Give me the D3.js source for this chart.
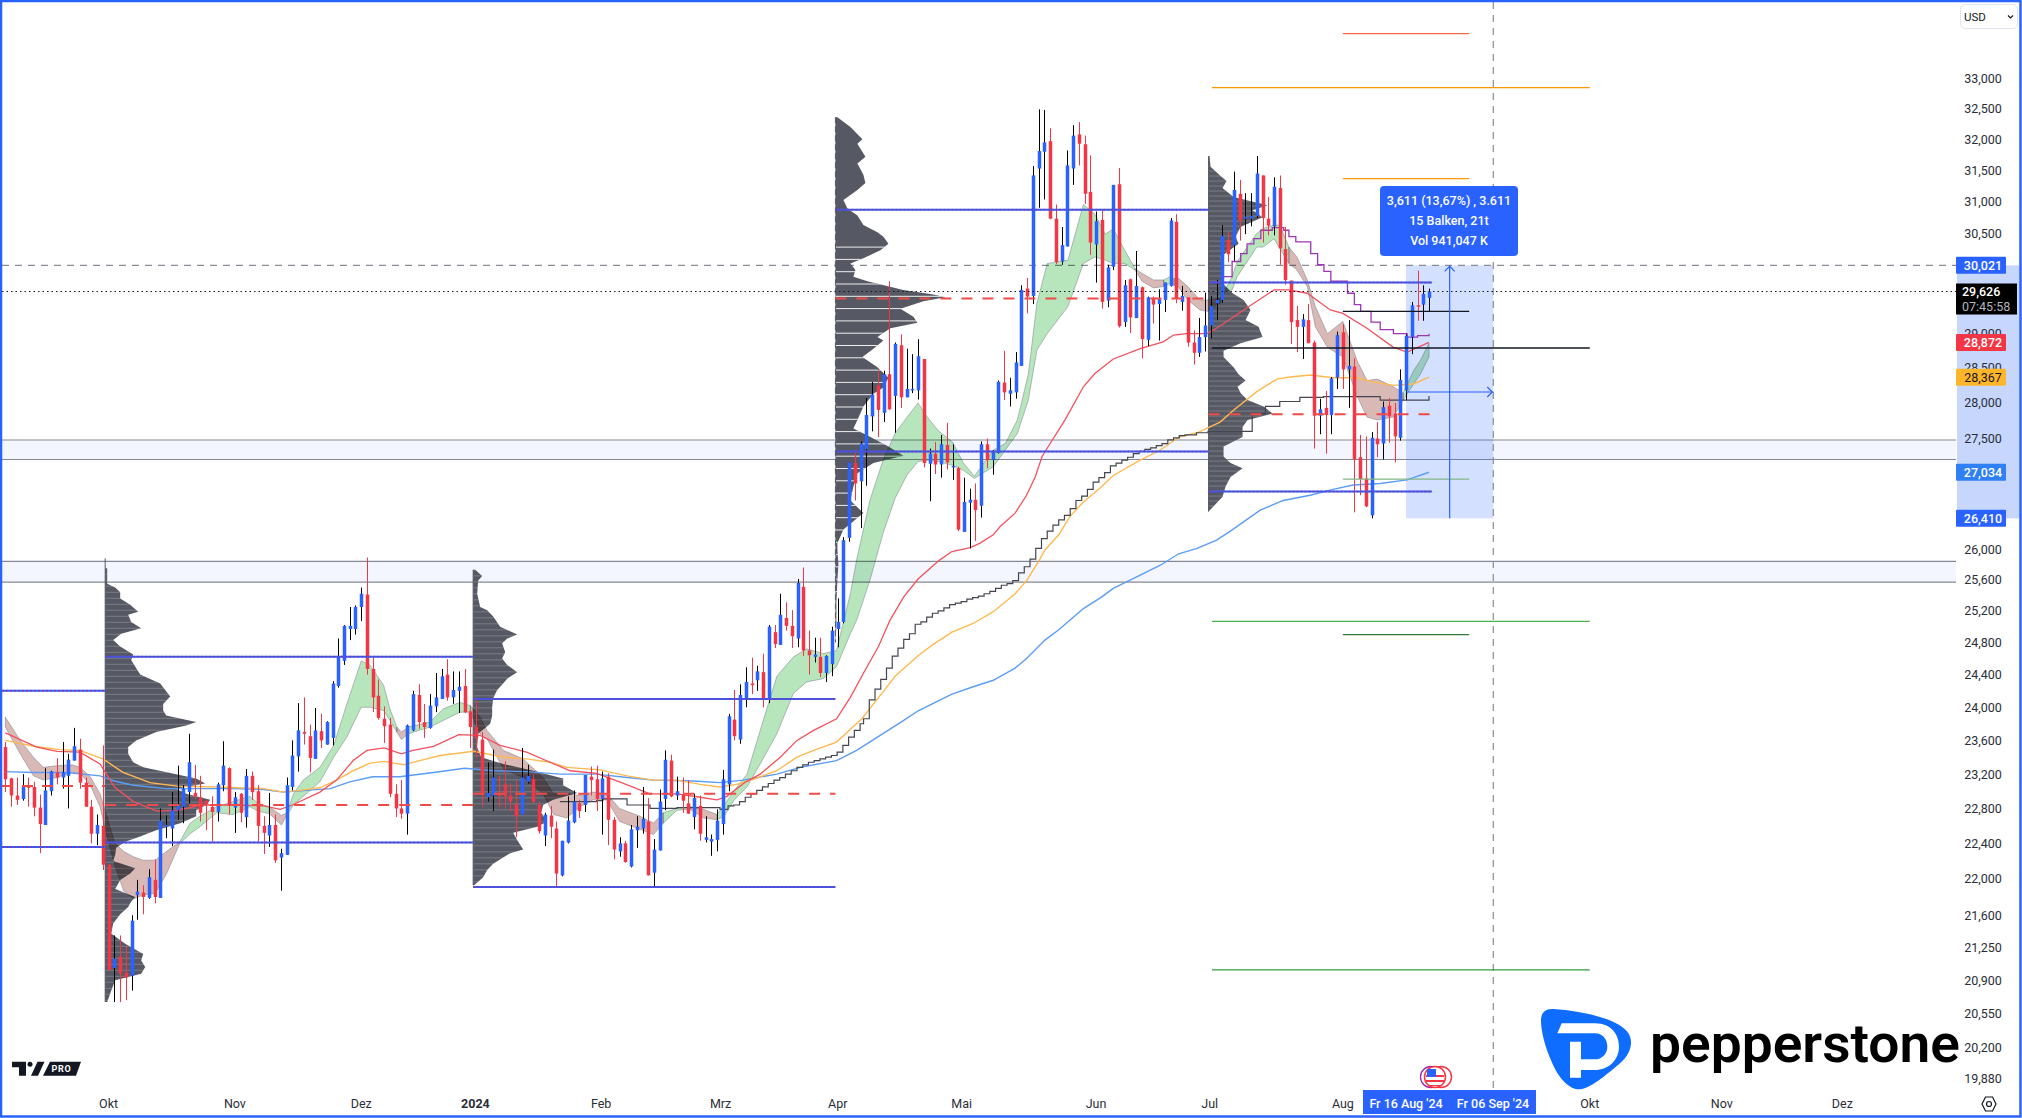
<!DOCTYPE html>
<html><head><meta charset="utf-8">
<script src="https://cdn.jsdelivr.net/npm/d3@7"></script>
<style>html,body{margin:0;padding:0;background:#fff;overflow:hidden}svg{display:block}text{font-family:Roboto,"Open Sans",sans-serif}</style>
</head><body><div id="c"></div>
<script>
const opens=[23520,23150,22950,22910,23060,23050,22810,22610,23000,23220,23160,23180,23360,23490,23100,22820,22510,22600,22160,21030,21150,20980,20950,21820,21850,21790,21990,21790,22590,22570,22780,22820,22990,22980,22930,22890,22820,22760,23070,23270,22810,22970,22700,23180,23000,22600,22490,22610,22240,22270,23050,23410,23700,23650,23380,23710,23550,23630,24260,24570,24970,24970,25250,25410,24470,24140,23860,23790,22970,22800,22740,23720,24150,23820,23750,24010,24100,24400,24120,24200,24260,23950,23760,23610,22930,22950,22980,23080,22950,22850,22730,23110,23140,22840,22490,22720,22570,22040,22410,22640,22860,22840,23170,23140,22910,23170,22670,22310,22400,22140,22550,22570,22650,22070,22320,22910,23360,22950,22960,22860,22700,22830,22440,22420,22440,22620,23080,23850,23610,24110,24290,24330,24430,24100,24930,24770,25110,25010,24850,25510,24700,24620,24620,24420,24530,24970,25060,26150,27160,26910,27350,27810,28250,27860,28410,28100,28830,28080,28180,28180,28630,27150,27290,27140,27410,27100,27090,26230,26620,26660,26580,27420,27200,27300,28290,28130,28150,28530,29670,29560,31530,31800,31970,30740,30080,30310,31530,32080,31920,31160,30340,30720,29490,30000,31280,29170,29810,29230,29690,28910,29530,29440,29500,29710,30690,29470,29540,28870,28720,28950,29120,29450,29500,30410,30330,31130,30740,30740,30780,31420,30740,30620,31220,30270,29790,29200,29100,29200,28870,27820,27930,27830,28360,29020,28480,28520,27240,26950,26450,27500,27430,27960,27850,27510,28180,28950,29420,29430,29530];
const highs=[23580,23160,23160,23200,23160,23110,22960,23270,23240,23390,23580,23440,23750,23620,23160,22900,22730,23540,22170,21380,21380,21270,21600,21990,21930,22110,22220,22800,22720,22990,23300,23070,23680,23310,23180,22900,22940,23100,23590,23280,22990,22980,23260,23230,23070,22710,22980,22730,22340,23160,23600,24050,24120,23790,23990,23920,23830,24320,24850,25020,25250,25270,25500,25890,24620,24340,24010,23870,23080,23130,23790,24200,24280,24040,24160,24420,24470,24590,24440,24440,24470,23960,24080,23700,23340,23490,23180,23350,23090,23130,23510,23310,23200,22880,22750,22830,22650,22430,22940,23010,22900,23190,23290,23300,23230,23210,22700,22470,22430,22610,22710,23050,22920,22450,23020,23480,23430,23170,23160,23130,22970,22950,22710,22500,22790,23250,23920,24210,24280,24490,24610,24510,24660,25020,25020,25420,25310,25210,25610,25760,24950,24860,24860,24640,25000,25360,26160,27170,27300,27460,28070,28300,28480,28460,29780,28870,28990,28780,28700,28920,28630,27360,27450,27550,27720,27420,27110,26960,26810,26880,27460,27500,27340,28320,28750,28360,28730,29720,29830,31570,32490,32480,32180,30960,30610,31820,32230,32280,32060,31740,30850,30870,30030,31270,31540,29800,29820,30240,29700,29550,29550,29660,29760,30750,30810,29710,29540,29050,29230,29610,29560,29800,30640,30540,31480,31350,31140,31140,31730,31420,31080,31390,31420,30610,29790,29410,29290,29440,28900,28060,28170,28370,29030,29140,29200,28640,27550,27530,27590,27730,28020,28070,28000,28480,28990,29470,29940,29720,29670];
const lows=[22990,22820,22840,22890,22820,22710,22290,22610,22950,23080,23030,22800,23360,23030,22820,22400,22380,22100,21000,20670,20670,20690,20790,21550,21610,21780,21730,21790,22460,22370,22670,22630,22860,22910,22650,22550,22420,22650,23000,22730,22520,22640,22580,22900,22420,22280,22360,22180,21870,22270,23010,23230,23550,23220,23380,23510,23550,23540,24240,24520,24830,24900,25070,24400,23940,23850,23570,22930,22700,22680,22500,23710,23740,23630,23740,23940,24100,24080,24040,23930,23930,23510,23400,22820,22880,22770,22820,22800,22770,22470,22730,23090,22860,22510,22370,22460,21920,22030,22400,22630,22690,22760,22950,22770,22500,22380,22220,22250,22180,22130,22350,22510,22040,21920,22320,22780,22930,22900,22750,22740,22560,22430,22410,22260,22310,22500,23000,23600,23560,24000,24160,24200,24000,24050,24730,24770,24950,24730,24740,24630,24400,24550,24370,24310,24380,24740,25040,26100,26650,26280,26850,27600,27520,27730,27900,27580,27930,28080,28140,28050,27100,26640,27010,26960,27070,26930,26240,26230,26010,26110,26420,27090,27000,27290,28040,27950,28060,28530,29300,29440,30910,31040,30730,30040,30030,30310,31270,31580,30970,30180,29760,29370,29390,29950,29090,29100,29010,29230,28640,28820,29150,28900,29320,29700,29450,29340,28810,28550,28660,28740,28930,29200,29460,30070,30090,30400,30500,30620,30750,30370,30480,30480,30030,29730,28850,28730,28630,28860,27360,27560,27290,27560,28200,28200,27930,26490,26720,26560,26410,27240,27210,27440,27170,27470,28040,28700,29190,29190,29330];
const closes=[23140,22950,22900,23060,23040,22810,22620,23010,23230,23160,23220,23370,23530,23100,22820,22510,22610,22160,21010,21130,20970,20930,21540,21860,21800,22020,21800,22660,22610,22780,22830,23030,23340,22940,22750,22850,22760,23080,23300,22830,22930,22750,23180,22990,22600,22520,22610,22210,22290,23070,23420,23720,23680,23390,23720,23600,23820,24290,24620,25010,25010,25250,25420,24470,24120,23870,23770,22970,22800,22740,23780,24160,23820,23760,24020,24120,24380,24120,24210,24250,23940,23760,23630,22960,22980,23160,22950,22940,22880,22710,23160,23180,22880,22540,22730,22590,22060,22430,22660,22880,22770,23190,23130,22910,23150,22670,22330,22400,22190,22560,22590,22680,22040,22330,22880,23370,22940,23000,22890,22740,22920,22510,22470,22450,22660,23140,23890,23650,24150,24310,24270,24440,24110,25000,24780,25150,25010,24880,25560,24700,24640,24650,24420,24630,24950,25060,26120,27170,26880,27430,27830,28120,27900,28410,27910,28850,28080,28200,28200,28670,27160,27290,27140,27420,27170,27120,26260,26630,26660,26520,27420,27200,27310,28300,28150,28180,28580,29650,29550,31420,31810,31950,30740,30070,30330,31580,32060,31930,31130,30370,30700,29470,29990,31270,29110,29720,29240,29710,28920,29540,29430,29510,29760,30710,29520,29560,28870,28720,28950,29120,29410,29500,30470,30190,31190,30710,30770,30780,31450,30750,30630,31240,30280,29800,29170,29100,29210,28860,27820,27910,27830,28350,28980,28480,28530,27210,26940,26570,27510,27420,27940,27810,27530,28330,28970,29420,29410,29590,29626];

const priceTicks=[33000,32500,32000,31500,31000,30500,29000,28500,28000,27500,26000,25600,25200,24800,24400,24000,23600,23200,22800,22400,22000,21600,21250,20900,20550,20200,19880];
const monthLabels=["Okt","Nov","Dez","2024","Feb","Mrz","Apr","Mai","Jun","Jul","Aug","Okt","Nov","Dez"];
const monthBars=[18,40,62,81.9,103.8,124.6,145,166.6,190,209.8,233,276,299,320];

// moving averages: bar index / price
const redBars=[0,5.5,9,13,16.5,19,22.3,26.4,30.4,34,39.7,45,47.9,50,54.8,57.7,60.6,63,66,69,71,74.6,79,82.7,86.2,90.8,94.9,98.4,103,107,112.3,117,121,124,125.7,129,131.5,135,137.9,140.8,144.8,147.2,149.5,152.1,154.1,156.5,159,161.1,162.8,164.9,168.1,169.8,172.1,173.3,175.9,177.9,179.4,180.6,182,183.5,184.6,187.8,189.8,193,197.7,201.7,203.5,205.8,209.3,211,214,218,221,223.5,226.8,230.8,233,237.2,241.8,244.2,248];
const redVals=[23690,23520,23470,23460,23320,23050,22880,22770,22780,22840,22840,22830,22790,22840,22990,23130,23360,23480,23510,23440,23480,23530,23670,23660,23540,23460,23340,23240,23210,23110,22970,22970,22930,22900,22940,23110,23200,23400,23600,23720,23860,24120,24420,24750,25080,25380,25610,25750,25860,25970,26020,26080,26190,26300,26480,26720,26970,27250,27430,27620,27760,28230,28420,28630,28780,28880,28980,29000,29000,29080,29250,29480,29650,29650,29600,29350,29300,29080,28800,28730,28872];
const orangeBars=[0,5,9.5,13,17,20.5,25.2,29.9,36.8,45,48.4,51.3,54.8,57.7,60.6,63.5,66,69.4,72.2,75.7,81.6,86.8,90.8,94.9,97.8,103.6,108.3,112.9,117,121,124.5,127.4,130.3,134.4,137.9,140.8,144.8,149.2,151.8,155,159.1,161.7,164.9,168.6,172.1,175.9,177.9,180,181.1,183.5,185.5,187.8,191,193,197.7,201.2,204.4,207.6,211.6,214,218,221.5,223.8,227.3,231.3,235.5,238.3,241.8,245.3,248];
const orangeVals=[23600,23530,23490,23480,23380,23220,23100,23060,23050,23030,22990,23010,23040,23130,23240,23330,23350,23310,23360,23420,23470,23400,23380,23340,23280,23250,23180,23130,23130,23080,23050,23080,23140,23240,23400,23480,23580,23860,24090,24380,24640,24780,24930,25040,25190,25420,25590,25840,25990,26190,26440,26630,26840,26990,27200,27340,27520,27580,27730,27900,28160,28340,28370,28400,28360,28360,28300,28250,28270,28367];
const blueBars=[0,5,10.7,16.5,19,22.3,28,34,39.7,45,48.4,52.5,56.6,60,64,68.7,74.6,80,85,90.8,96.6,103,108.3,112.9,119.9,124.5,128.5,134.4,138.5,144.8,148.3,152.4,156.5,159.1,164.9,168.6,172.1,175.9,177.9,181.1,183.5,187.8,191,193,197.7,201.2,204.4,207.6,211,213.4,218.6,222.6,227.3,231.3,234.8,239.5,244.2,248];
const blueVals=[23230,23220,23220,23180,23120,23070,23030,23030,23030,23020,22990,23010,23030,23110,23170,23170,23220,23270,23240,23230,23200,23200,23160,23130,23120,23100,23130,23200,23280,23360,23480,23660,23840,23960,24160,24250,24330,24480,24600,24830,24960,25230,25380,25490,25660,25790,25940,26010,26120,26240,26520,26650,26720,26800,26860,26880,26930,27034];
const blackBars=[96.6,103,104.1,108.3,112.3,117,121,124.5,125.9,126.9,127.9,128.9,129.9,130.9,131.9,132.9,133.9,134.9,135.9,136.9,137.9,138.9,139.9,140.9,141.9,142.9,143.9,144.9,145.9,146.9,147.9,148.9,149.5,150.5,151.5,152.5,153.5,154.5,155.5,156.5,157.5,158.5,159.5,160.5,161.5,162.5,163.5,164.5,165.5,166.5,167.5,168.5,169.5,170.5,171.5,172.5,173.5,174.5,175.5,176.5,177.5,178.5,179.5,180.5,181.5,182.5,183.5,184.5,185.5,186.5,187.5,188.5,189.5,190.5,191.5,192.5,193.5,194.5,195.5,196.5,197.5,198.5,199.5,200.5,201.5,202.5,203.5,204.5,205.5,207.5,209.5,217.2,219.5,222,225.5,229.6,234.8,239.5,244.2,248];
const blackVals=[22880,22890,22910,22840,22800,22810,22810,22790,22830,22840,22880,22930,22970,23010,23050,23090,23130,23160,23200,23240,23280,23310,23340,23360,23380,23400,23420,23460,23540,23640,23720,23800,23860,24090,24220,24340,24480,24630,24730,24840,24910,25030,25060,25120,25170,25200,25240,25280,25300,25320,25350,25370,25390,25420,25450,25490,25530,25550,25590,25690,25770,25870,26010,26140,26240,26320,26390,26450,26540,26650,26710,26800,26900,26960,27030,27120,27160,27200,27240,27290,27320,27350,27370,27400,27430,27480,27510,27540,27550,27580,27600,27850,27950,28020,28080,28090,28090,28040,28040,28100];
const purpleBars=[211.9,213.7,215.2,216.3,217.5,218.7,220.7,222.7,223.6,224.8,227.4,228.6,229.7,230.9,233.8,235,236.1,237.9,239.5,241.8,244.2,246,248];
const purpleVals=[29850,30080,30200,30350,30430,30560,30600,30560,30460,30380,30200,30030,29930,29780,29600,29430,29330,29170,29060,29000,28950,28970,29000];

// ribbon: segments of [bar, upper, lower]
const ribbonSegments=[
{c:"r",p:[[0,23880,23760],[2.6,23600,23440],[4.9,23400,23180],[6.6,23280,23130],[9,23300,23160],[11.6,23310,23220],[13,23280,23220],[14.8,23170,23070],[16.5,22970,22820],[17.7,22710,22480],[19.1,22400,22150],[20.6,22310,21870],[22.3,22250,21780],[24,22210,21820],[26.1,22210,21840],[28.1,22310,22060],[30.4,22420,22400]]},
{c:"g",p:[[30.4,22420,22400],[32.2,22630,22510],[33.9,22710,22590],[36.8,22820,22750],[39.7,22880,22730],[42.6,22940,22820],[44,22860,22770],[46,22820,22740]]},
{c:"r",p:[[46,22820,22740],[48.1,22720,22610],[49.1,22750,22730]]},
{c:"g",p:[[49.1,22750,22730],[50.2,22970,22840],[51.9,23130,22940],[54.8,23280,23110],[57.2,23540,23400],[59.5,24040,23640],[62,24570,24000],[63.5,24520,24000],[65.9,24270,23960],[67,23980,23840],[68.2,23760,23700]]},
{c:"r",p:[[68.2,23760,23700],[69,23700,23610],[70.2,23760,23680]]},
{c:"g",p:[[70.2,23760,23680],[74,23820,23760],[76.3,23980,23840],[79.2,24060,23940],[81,24020,23940]]},
{c:"r",p:[[81,24020,23940],[82.7,23880,23680],[83.9,23720,23620],[86.8,23480,23260],[90.2,23380,23160],[93.7,23160,22970],[95.5,22970,22730],[97.8,22970,22690],[100.1,22950,22820],[102.4,22990,22900],[104.8,22970,22900],[107,22800,22650],[110.6,22710,22560],[112.9,22630,22500],[114.6,22750,22630]]},
{c:"g",p:[[114.6,22750,22630],[117,22800,22780],[119.3,22820,22790]]},
{c:"r",p:[[119.3,22820,22790],[121.6,22790,22690],[124,22730,22670]]},
{c:"g",p:[[124,22730,22670],[125.2,22840,22710],[127,23010,22900],[129.2,23200,23050],[131.5,23720,23320],[134.4,24380,23680],[137.3,24620,24170],[139.6,24720,24310],[142.5,24660,24350],[144.8,24700,24500],[147.2,25420,24910],[148.3,25860,25080],[150.6,26650,25590],[152.9,27200,26210],[155,27570,26680],[157.1,27800,27000],[159,28000,27180],[160.6,27800,27200],[162.5,27610,27180],[165,27450,27130],[166.9,27160,27060],[168.8,26980,26950],[172.1,27340,27110],[174.2,27430,27340],[176.3,27760,27570],[178.2,28410,28040],[179.7,29450,28760],[181.5,30050,29000],[185.1,30100,29400],[187.8,30960,30050],[189.8,30810,30150],[191.6,30500,30100],[193,30580,30050],[195,30250,30050],[196.8,29970,29950]]},
{c:"r",p:[[196.8,29970,29950],[198,29900,29780],[200,29800,29680],[201.8,29800,29700]]},
{c:"g",p:[[201.8,29800,29700],[202.9,29850,29750],[203.6,29820,29720]]},
{c:"r",p:[[203.6,29820,29720],[204.3,29830,29700],[206,29700,29500],[208.1,29500,29350],[209.5,29500,29330],[211.6,29520,29450]]},
{c:"g",p:[[211.6,29520,29450],[212.5,29650,29630],[213.7,29850,29650],[214.6,30080,29850],[218,30510,30300],[219.1,30590,30300],[221,30640,30430],[222,30640,30280],[223.6,30300,30050]]},
{c:"r",p:[[223.6,30300,30050],[225,30150,29950],[226.8,29800,29700],[228.2,29400,29100],[230.3,29000,28800],[233,29180,28660],[235.5,28600,28090],[237.2,28320,27800],[239,28340,27760],[241.8,28230,27800],[243.5,28140,28040]]},
{c:"g",p:[[243.5,28140,28040],[245.3,28460,28270],[246.5,28610,28410],[248,28860,28660]]}
];

// volume profiles: price / volume rows
const vp1Prices=[25750,25550,25500,25440,25360,25280,25190,25150,25060,24980,24910,24830,24750,24650,24580,24500,24400,24290,24210,24130,24040,23960,23900,23820,23780,23700,23600,23520,23440,23340,23280,23200,23150,23090,23030,22970,22900,22840,22780,22710,22630,22550,22480,22420,22350,22270,22200,22120,22060,21990,21890,21800,21750,21690,21610,21510,21400,21290,21180,21110,21040,20970,20900,20790,20670];
const vp1Vols=[2,2,10,15,15,25,33,23,26,36,16,8,15,28,26,30,35,55,60,65,58,58,61,91,81,51,31,23,23,28,38,71,91,100,71,81,105,101,91,91,75,51,35,20,11,10,8,30,25,15,10,30,26,23,15,8,6,20,38,36,40,36,10,6,2];
const vp2Prices=[25730,25650,25590,25420,25250,25210,25130,25000,24900,24850,24790,24680,24600,24520,24430,24350,24290,24210,24110,24000,23900,23800,23680,23520,23400,23320,23240,23150,23070,22980,22900,22840,22750,22650,22590,22520,22440,22330,22290,22170,22100,22020,21930];
const vp2Vols=[2,9,5,4,7,14,20,27,44,34,29,32,29,34,44,34,30,24,20,19,19,17,5,4,8,30,60,90,90,104,80,70,68,74,64,40,44,50,37,20,14,10,1];
const vp3Prices=[32360,32200,32000,31930,31720,31610,31430,31300,31190,31030,30900,30790,30640,30530,30460,30350,30250,30130,30050,29950,29850,29780,29650,29580,29540,29480,29370,29250,29160,29080,28950,28900,28780,28660,28510,28360,28220,28130,27950,27760,27640,27520,27390,27260,27160,27020,26840,26650,26480,26260,26080,26000,25800,25600,25300,25000,24800];
const vp3Vols=[2,15,27,22,30,22,28,30,22,8,12,22,28,42,48,53,45,28,15,20,18,32,68,98,110,88,65,78,82,55,42,48,38,27,42,53,48,38,28,22,18,35,53,68,38,22,18,15,28,8,2,2,3,2,1,1,0];
const vp4Prices=[31730,31560,31410,31330,31220,31080,30950,30870,30760,30610,30460,30350,30150,29900,29750,29600,29500,29350,29200,29100,28950,28860,28750,28660,28510,28410,28320,28230,28140,28040,27950,27850,27760,27660,27520,27390,27250,27160,27090,26970,26840,26700,26500];
const vp4Vols=[1,2,12,18,14,25,59,44,54,32,27,30,12,15,14,24,35,42,37,50,54,32,15,15,25,30,37,29,32,39,55,64,39,34,34,15,15,22,34,22,17,14,0];
const vpBars=[17.4,81.5,144.6,209.6];
const vpGap=[6,6,12.3,5];
const vpStripeTop=[25750,25730,30300,31730];
const vaHigh=[24620,24100,30880,29760];
const vaLow=[22410,21910,27320,26770];
const vpPoc=[22840,22970,29520,27840];
const vpEndBars=[81.5,144.6,209.6,248.5];
const preHigh=24200,preLow=22360,prePoc=23060;

const zoneHighs=[27480,25840];
const zoneLows=[27210,25570];
const fibLongPrices=[32850,28790,25066,21010];
const fibLongColors=["#ff9800","#131722","#4caf50","#2e9b3f"];
const fibShortPrices=[33760,31370,29330,26940,24900];
const fibShortColors=["#f7693c","#ff9800","#131722","#81b784","#2e7d32"];
const fibLongBarRange=[210.2,276];
const fibShortBarRange=[233,255];
const measureLow=26410,measureHigh=30021,measureBars=[244,259.2],lastPrice=29626;
const tooltipLines=["3,611 (13,67%) , 3.611","15 Balken, 21t","Vol 941,047 K"];
const priceBadges=[[30021,"#2962ff","#fff"],[28872,"#f23645","#fff"],[28367,"#ffb52a","#131722"],[27034,"#2f7ff5","#fff"],[26410,"#2962ff","#fff"]];

const W=2022,H=1118,paneR=1956;
const y=d3.scaleLog().domain([19880,33000]).range([1079,78.6]);
const x=d3.scaleLinear().domain([0,248]).range([5.3,1429]);
const vol=d3.scaleLinear().domain([0,100]).range([0,100]);
const BLUE="#2962ff",RED="#f23645";

const svg=d3.select("#c").append("svg").attr("width",W).attr("height",H);
svg.append("rect").attr("width",W).attr("height",H).attr("fill","#fff");
const defs=svg.append("defs");
defs.append("clipPath").attr("id","pane").append("rect").attr("x",2).attr("y",2).attr("width",paneR-2).attr("height",1086);
const g=svg.append("g").attr("clip-path","url(#pane)");
const hline=(p,x1,x2,col,w,dash,op)=>g.append("line").attr("x1",x1).attr("x2",x2).attr("y1",y(p)).attr("y2",y(p)).attr("stroke",col).attr("stroke-width",w).attr("stroke-dasharray",dash||null).attr("opacity",op||1);

// zones
zoneHighs.forEach((h,i)=>{
  g.append("rect").attr("x",2).attr("width",paneR-2).attr("y",y(h)).attr("height",y(zoneLows[i])-y(h)).attr("fill","#f3f6fe");
  hline(h,2,paneR,"#868993",1.1);hline(zoneLows[i],2,paneR,"#868993",1.1);
});
// measure rect
g.append("rect").attr("x",x(measureBars[0])).attr("width",x(measureBars[1])-x(measureBars[0])).attr("y",y(measureHigh)).attr("height",y(measureLow)-y(measureHigh)).attr("fill","rgba(41,98,255,0.2)");
// crosshairs
hline(measureHigh,2,paneR,"#8a8d98",1.2,"7 6");
g.append("line").attr("x1",x(measureBars[1])).attr("x2",x(measureBars[1])).attr("y1",2).attr("y2",1090).attr("stroke","#8a8d98").attr("stroke-width",1.2).attr("stroke-dasharray","7 6");

// volume profiles
[[vp1Prices,vp1Vols],[vp2Prices,vp2Vols],[vp3Prices,vp3Vols],[vp4Prices,vp4Vols]].forEach(([ps,vs],k)=>{
  const x0=x(vpBars[k]);
  const rows=ps.map((p,i)=>[p,vs[i]]);
  const area=d3.area().y(d=>y(d[0])).x0(x0).x1(d=>x0+vol(d[1]));
  const id="vpc"+k;
  defs.append("clipPath").attr("id",id).append("path").attr("d",area(rows));
  g.append("path").attr("d",area(rows)).attr("fill","#565963");
  const y0=y(ps[0]),y1=y(ps[ps.length-1]);
  const gs=g.append("g").attr("clip-path",`url(#${id})`);
  d3.range(y(vpStripeTop[k]),y1,vpGap[k]).forEach(v=>gs.append("line").attr("x1",x0).attr("x2",x0+130).attr("y1",v).attr("y2",v).attr("stroke","#fff").attr("stroke-width",1).attr("opacity",k==2?.9:.22));
  g.append("line").attr("x1",x0).attr("x2",x0).attr("y1",y0-(k==0?10:0)).attr("y2",y1).attr("stroke","#565963").attr("stroke-width",1).attr("stroke-dasharray",k==2?"6 3":null);
});

// ribbon
const band=d3.area().x(d=>x(d[0])).y0(d=>y(d[1])).y1(d=>y(d[2]));
ribbonSegments.forEach(s=>g.append("path").attr("d",band(s.p))
  .attr("fill",s.c=="g"?"#b7e6bd":"#d9b9b5").style("mix-blend-mode","multiply")
  .attr("stroke","rgba(120,123,134,.5)").attr("stroke-width",1));

// moving averages
const ln=(b,v,col,w,curve)=>g.append("path").attr("d",d3.line().x(d=>x(d[0])).y(d=>y(d[1])).curve(curve||d3.curveLinear)(b.map((a,i)=>[a,v[i]]))).attr("fill","none").attr("stroke",col).attr("stroke-width",w);
ln(blueBars,blueVals,"#5b9cf6",1.4);
ln(orangeBars,orangeVals,"#ffb94f",1.4);
ln(redBars,redVals,"#f2515e",1.3);
ln(blackBars,blackVals,"#434651",1.2,d3.curveStepAfter);
ln(purpleBars,purpleVals,"#9c36b5",1.3,d3.curveStepAfter);

// candles
const idx=d3.range(opens.length);
g.append("g").selectAll("line").data(idx).join("line")
 .attr("x1",i=>Math.round(x(i))+.5).attr("x2",i=>Math.round(x(i))+.5).attr("y1",i=>y(highs[i])).attr("y2",i=>y(lows[i]))
 .attr("stroke",i=>closes[i]>=opens[i]?"#000":RED).attr("stroke-width",1);
g.append("g").selectAll("rect").data(idx).join("rect")
 .attr("x",i=>Math.round(x(i))-1.25).attr("width",3.5)
 .attr("y",i=>Math.min(y(opens[i]),y(closes[i])))
 .attr("height",i=>Math.max(1.5,Math.abs(y(opens[i])-y(closes[i]))))
 .attr("fill",i=>closes[i]>=opens[i]?BLUE:RED);

// value area & POC lines
const val=(p,x1,x2)=>{hline(p,x1,x2,BLUE,2);hline(p,x1,x2,"#b0277a",2,"2 2",.55);};
val(preHigh,2,x(vpBars[0]));val(preLow,2,x(vpBars[0]));hline(prePoc,2,x(vpBars[0]),"#f04a48",2,"11 9");
vpBars.forEach((b,k)=>{
  const a=x(b),e=x(vpEndBars[k]);
  val(vaHigh[k],a,e);val(vaLow[k],a,e);
  hline(vpPoc[k],a,e,"#f04a48",2,"11 10");
});
// fib lines
fibLongPrices.forEach((p,i)=>hline(p,x(fibLongBarRange[0]),x(fibLongBarRange[1]),fibLongColors[i],1.3));
fibShortPrices.forEach((p,i)=>hline(p,x(fibShortBarRange[0]),x(fibShortBarRange[1]),fibShortColors[i],1.3));
// last price dotted
hline(lastPrice,2,paneR,"#131722",1.2,"1.5 3");
// measure arrows
const cx=(x(measureBars[0])+x(measureBars[1]))/2;
g.append("line").attr("x1",cx).attr("x2",cx).attr("y1",y(measureHigh)).attr("y2",y(measureLow)).attr("stroke",BLUE).attr("stroke-width",1.2);
g.append("path").attr("d",`M${cx-5},${y(measureHigh)+6}L${cx},${y(measureHigh)+1}L${cx+5},${y(measureHigh)+6}`).attr("fill","none").attr("stroke",BLUE).attr("stroke-width",1.2);
const my=392;
g.append("line").attr("x1",x(measureBars[0])).attr("x2",x(measureBars[1])).attr("y1",my).attr("y2",my).attr("stroke",BLUE).attr("stroke-width",1.2);
g.append("path").attr("d",`M${x(measureBars[1])-6},${my-5}L${x(measureBars[1])-1},${my}L${x(measureBars[1])-6},${my+5}`).attr("fill","none").attr("stroke",BLUE).attr("stroke-width",1.2);
// tooltip
svg.append("rect").attr("x",1380).attr("y",186).attr("width",138).attr("height",70).attr("rx",4).attr("fill",BLUE);
tooltipLines.forEach((t,i)=>svg.append("text").attr("x",1449).attr("y",201+i*20).attr("dy",".35em").attr("text-anchor","middle").attr("fill","#fff").attr("font-size",12.5).attr("font-weight",500).text(t));

// price axis
svg.append("rect").attr("x",1957).attr("y",y(measureHigh)).attr("width",62.5).attr("height",y(measureLow)-y(measureHigh)).attr("fill","#c6d6fd");
svg.append("g").selectAll("text").data(priceTicks).join("text").attr("x",1983).attr("y",d=>y(d)).attr("dy",".35em").attr("text-anchor","middle").attr("font-size",12.5).attr("fill","#2a2e39").text(d=>d3.format(",")(d));
priceBadges.forEach(([p,bg,fg])=>{
  svg.append("rect").attr("x",1956).attr("y",y(p)-8.5).attr("width",50).attr("height",17).attr("rx",1).attr("fill",bg);
  svg.append("text").attr("x",1983).attr("y",y(p)).attr("dy",".35em").attr("text-anchor","middle").attr("font-size",12.5).attr("font-weight",fg=="#fff"?500:400).attr("fill",fg).text(d3.format(",")(p));
});
svg.append("rect").attr("x",1956).attr("y",y(lastPrice)-8).attr("width",61).attr("height",31).attr("fill","#000");
svg.append("text").attr("x",1962).attr("y",y(lastPrice)).attr("dy",".35em").attr("font-size",12.5).attr("font-weight",500).attr("fill","#fff").text("29,626");
svg.append("text").attr("x",1962).attr("y",y(lastPrice)+15).attr("dy",".35em").attr("font-size",12.5).attr("fill","#b2b5be").text("07:45:58");
// USD button
svg.append("rect").attr("x",1960.5).attr("y",4.5).attr("width",57).attr("height",24).attr("rx",5).attr("fill","#fff").attr("stroke","#e0e3eb");
svg.append("text").attr("x",1964).attr("y",17).attr("dy",".35em").attr("font-size",11.5).attr("fill","#131722").text("USD");
svg.append("path").attr("d","M2008,15.5l2.5,2.5l2.5,-2.5").attr("fill","none").attr("stroke","#131722").attr("stroke-width",1.2);

// time axis
svg.append("g").selectAll("text").data(monthLabels).join("text").attr("x",(d,i)=>x(monthBars[i])).attr("y",1104).attr("dy",".35em").attr("text-anchor","middle").attr("font-size",12.5).attr("font-weight",d=>d=="2024"?700:400).attr("fill","#2a2e39").text(d=>d);
svg.append("rect").attr("x",1363).attr("y",1090).attr("width",173).attr("height",24).attr("fill",BLUE);
svg.append("text").attr("x",1406).attr("y",1104).attr("dy",".35em").attr("text-anchor","middle").attr("font-size",12.5).attr("font-weight",500).attr("fill","#fff").text("Fr 16 Aug '24");
svg.append("text").attr("x",1493).attr("y",1104).attr("dy",".35em").attr("text-anchor","middle").attr("font-size",12.5).attr("font-weight",500).attr("fill","#fff").text("Fr 06 Sep '24");
// settings
svg.append("path").attr("d","M1982,1104l3.5,-7h7l3.5,7l-3.5,7h-7z").attr("fill","none").attr("stroke","#131722").attr("stroke-width",1.2);
svg.append("circle").attr("cx",1989).attr("cy",1104).attr("r",2.5).attr("fill","none").attr("stroke","#131722").attr("stroke-width",1.2);

// earnings flag
const ic=svg.append("g");
ic.append("circle").attr("cx",1431).attr("cy",1077).attr("r",10.5).attr("fill","#fff").attr("stroke","#9c27b0").attr("stroke-width",1.3);
ic.append("circle").attr("cx",1441).attr("cy",1077).attr("r",10.5).attr("fill","#fff").attr("stroke","#f23645").attr("stroke-width",1.5);
ic.append("circle").attr("cx",1435).attr("cy",1077).attr("r",10.5).attr("fill","#fff").attr("stroke","#f23645").attr("stroke-width",1.5);
ic.append("path").attr("d","M1426,1075h18v2h-18zM1426,1080h18v2h-18zM1428,1085h14v1h-14z").attr("fill","#f23645");
ic.append("rect").attr("x",1427).attr("y",1069).attr("width",9).attr("height",8).attr("fill","#2962ff");

// TV logo
const tv=svg.append("g").attr("transform","translate(12,1061)");
tv.append("path").attr("d","M0,0.7H14V14.7H7V6.3H0ZM19,14.7H26L32.5,0.7H25.5Z").attr("fill","#131722");
tv.append("circle").attr("cx",18).attr("cy",3.2).attr("r",2.5).attr("fill","#131722");
tv.append("path").attr("d","M38,0.7H69L64,14.7H31Z").attr("fill","#131722");
tv.append("text").attr("x",49.5).attr("y",7.7).attr("dy",".35em").attr("text-anchor","middle").attr("font-size",9).attr("font-weight",700).attr("letter-spacing",.8).attr("fill","#fff").text("PRO");

// pepperstone logo
const pp=svg.append("g").attr("transform","translate(1520,990) scale(0.3333)");
pp.append("path").attr("d","M63,90C63,65 80,55 100,57C180,62 290,85 322,125C345,155 330,195 300,220C270,245 215,295 180,298C150,300 115,265 95,215C75,170 63,125 63,90Z").attr("fill","#0e6cff");
pp.append("path").attr("fill-rule","evenodd").attr("d","M112,130L125,100H225C275,100 297,135 297,170C297,210 265,240 225,240H183V263H150V155H183V208H225C245,208 262,192 262,170C262,150 250,130 225,130Z").attr("fill","#fff");
svg.append("text").attr("x",1650).attr("y",1062).attr("font-size",54).attr("font-weight",600).attr("font-family","Inter").attr("textLength",310).attr("lengthAdjust","spacingAndGlyphs").attr("fill","#000").text("pepperstone");

// frame
svg.append("rect").attr("x",1).attr("y",1).attr("width",W-2.5).attr("height",H-2.5).attr("fill","none").attr("stroke",BLUE).attr("stroke-width",2.5);
</script></body></html>
